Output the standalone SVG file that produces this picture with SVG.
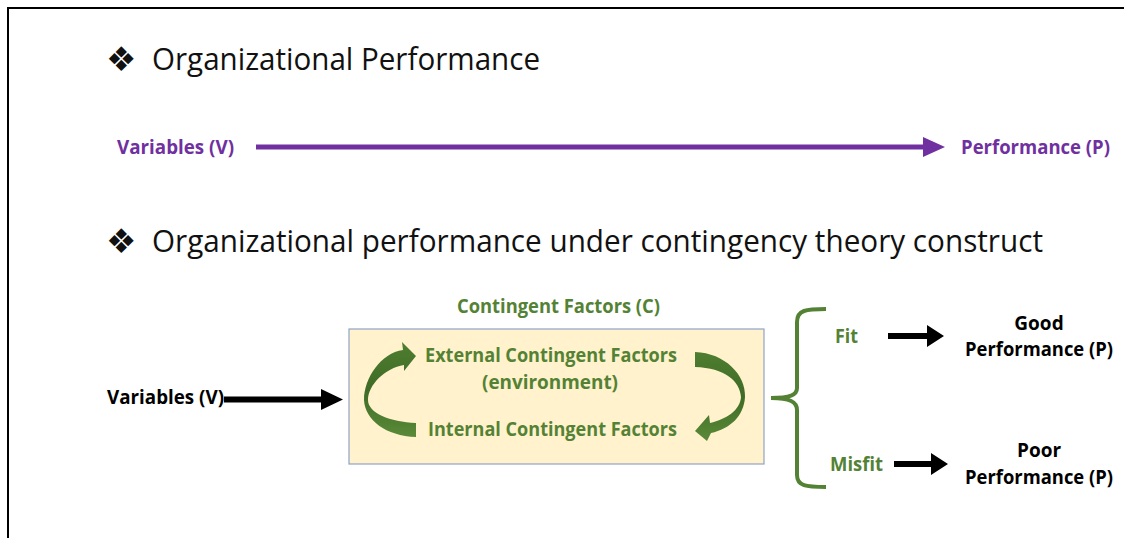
<svg xmlns="http://www.w3.org/2000/svg" width="1124" height="538" viewBox="0 0 1124 538">
  <style>
    .head { font-family: "Open Sans", "Liberation Sans", sans-serif; font-size: 31px; fill: #111; }
    .bullet { font-family: "DejaVu Sans", sans-serif; font-size: 34px; fill: #111; }
    .lbl { font-family: "Open Sans", "Liberation Sans", sans-serif; font-size: 19px; font-weight: bold; }
    .purple { fill: #7030A0; }
    .green { fill: #548235; }
    .black { fill: #000; }
  </style>
  <defs>
    <linearGradient id="swirl" x1="0" y1="0" x2="0" y2="1">
      <stop offset="0" stop-color="#4E7E30"/>
      <stop offset="0.5" stop-color="#3F6B26"/>
      <stop offset="1" stop-color="#5A8A38"/>
    </linearGradient>
  </defs>

  <!-- page frame edges -->
  <path d="M8,538 V8 H1124" fill="none" stroke="#000" stroke-width="2"/>

  <!-- headings -->
  <g id="heading-1">
    <text class="bullet" x="106" y="71">❖</text>
    <text class="head" x="152" y="70" textLength="388" lengthAdjust="spacingAndGlyphs">Organizational Performance</text>
  </g>
  <g id="heading-2">
    <text class="bullet" x="106" y="253">❖</text>
    <text class="head" x="152" y="252" textLength="891" lengthAdjust="spacingAndGlyphs">Organizational performance under contingency theory construct</text>
  </g>

  <!-- simple model -->
  <g id="var-top">
    <text class="lbl purple" x="117" y="154" textLength="117" lengthAdjust="spacingAndGlyphs">Variables (V)</text>
  </g>
  <g id="perf-top">
    <text class="lbl purple" x="961" y="154" textLength="149" lengthAdjust="spacingAndGlyphs">Performance (P)</text>
  </g>

  <!-- contingency model -->
  <g id="var-bottom">
    <text class="lbl black" x="107" y="404" textLength="117" lengthAdjust="spacingAndGlyphs">Variables (V)</text>
  </g>

  <g id="contingent-factors">
    <text class="lbl green" x="457" y="313" textLength="203" lengthAdjust="spacingAndGlyphs">Contingent Factors (C)</text>
    <rect x="349" y="329" width="415" height="135" fill="#FFF2CC" stroke="#8EA3C8" stroke-width="1.2"/>
    <text class="lbl green" x="425" y="362" textLength="252" lengthAdjust="spacingAndGlyphs">External Contingent Factors</text>
    <text class="lbl green" x="482" y="389" textLength="136" lengthAdjust="spacingAndGlyphs">(environment)</text>
    <text class="lbl green" x="428" y="436" textLength="249" lengthAdjust="spacingAndGlyphs">Internal Contingent Factors</text>
    <!-- left swirl: internal up to external -->
    <path fill="url(#swirl)" d="M416,437 C386,436 365,420 364,400 C364,378 381,353 403,350 L402,342 L416,356 L404,371 L404,365 C385,368 368,385 368,400 C368,413 390,422 416,423 Z"/>
    <!-- right swirl: external down to internal -->
    <path fill="url(#swirl)" d="M695,352 C725,353 746,375 745,397 C744,416 730,429 711,433 L707,441 L695,431 L709,415 L710,423 C727,419 740,410 741,397 C740,381 725,368 695,367 Z"/>
  </g>

  <g id="brace">
    <path d="M826,309 C806,309 797,310 797,322 L797,388 C797,395 790,398 771,398 C790,398 797,402 797,410 L797,475 C797,486 806,487 826,487" fill="none" stroke="#548235" stroke-width="4"/>
  </g>

  <g id="fit">
    <text class="lbl green" x="835" y="343" textLength="23" lengthAdjust="spacingAndGlyphs">Fit</text>
  </g>
  <g id="misfit">
    <text class="lbl green" x="830" y="471" textLength="53" lengthAdjust="spacingAndGlyphs">Misfit</text>
  </g>
  <g id="good-performance">
    <text class="lbl black" x="1039" y="330" text-anchor="middle">Good</text>
    <text class="lbl black" x="965" y="356" textLength="148" lengthAdjust="spacingAndGlyphs">Performance (P)</text>
  </g>
  <g id="poor-performance">
    <text class="lbl black" x="1039" y="457" text-anchor="middle">Poor</text>
    <text class="lbl black" x="965" y="484" textLength="148" lengthAdjust="spacingAndGlyphs">Performance (P)</text>
  </g>

  <!-- connectors -->
  <g id="connectors">
    <path d="M256,144.5 H923 V137 L945,147 L923,157 V149.5 H256 Z" fill="#7030A0"/>
    <path d="M224,396.5 H321 V389 L343,399.5 L321,410 V402.5 H224 Z" fill="#000"/>
    <path d="M888,333 H927 V325 L944,336 L927,347 V339 H888 Z" fill="#000"/>
    <path d="M894,461 H931 V453 L948,464 L931,475 V467 H894 Z" fill="#000"/>
  </g>
</svg>
